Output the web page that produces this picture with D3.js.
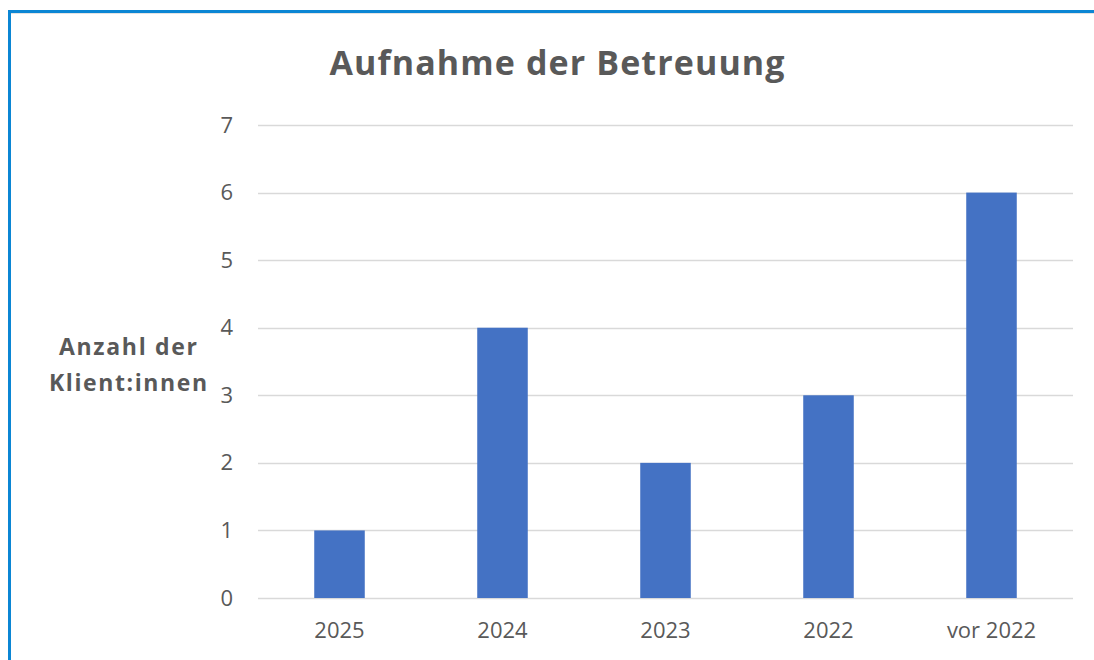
<!DOCTYPE html>
<html>
<head>
<meta charset="utf-8">
<script src="https://cdn.jsdelivr.net/npm/d3@7"></script>
<style>
  html, body { margin: 0; padding: 0; background: #fff; }
  svg { display: block; font-family: "Open Sans", sans-serif; }
</style>
</head>
<body>
<div id="chart"></div>
<script>
// Daten
const categories = ['2025', '2024', '2023', '2022', 'vor 2022']
const values = [1, 4, 2, 3, 6]
const yTicks = [0, 1, 2, 3, 4, 5, 6, 7]
const title = 'Aufnahme der Betreuung'
const yTitle = ['Anzahl der', 'Klient:innen']

const width = 1094
const height = 660
const margin = { top: 125, right: 21, bottom: 62, left: 258 }
const innerW = width - margin.left - margin.right
const innerH = height - margin.top - margin.bottom

const svg = d3.select('#chart')
  .append('svg')
  .attr('width', width)
  .attr('height', height)

// Rahmen (nur links und oben sichtbar)
svg.append('line')
  .attr('x1', 9).attr('y1', 13).attr('x2', width).attr('y2', 13)
  .attr('stroke', '#e3e3e3').attr('stroke-width', 2)
svg.append('path')
  .attr('d', `M9.5,${height} V11.5 H${width}`)
  .attr('fill', 'none')
  .attr('stroke', '#0b86d4')
  .attr('stroke-width', 3)

// Skalen
const x = d3.scaleBand()
  .domain(categories)
  .range([0, innerW])
  .paddingInner(0.69)
  .paddingOuter(0.345)

const y = d3.scaleLinear()
  .domain([0, 7])
  .range([innerH, 0])

const g = svg.append('g')
  .attr('transform', `translate(${margin.left},${margin.top})`)

// Gitterlinien
g.append('g')
  .selectAll('line')
  .data(yTicks)
  .join('line')
  .attr('x1', 0)
  .attr('x2', innerW)
  .attr('y1', d => Math.round(y(d)) + 0.5)
  .attr('y2', d => Math.round(y(d)) + 0.5)
  .attr('stroke', '#d9d9d9')
  .attr('stroke-width', 1.5)

// y-Achse Beschriftung
const yAxis = d3.axisLeft(y).tickValues(yTicks).tickFormat(d3.format('d'))
  .tickSize(0).tickPadding(25)
g.append('g')
  .call(yAxis)
  .call(s => s.select('.domain').remove())
  .selectAll('text')
  .attr('fill', '#595959')
  .attr('font-size', 22)
  .attr('font-family', '"Open Sans", sans-serif')

// Balken
g.append('g')
  .selectAll('rect')
  .data(values)
  .join('rect')
  .attr('x', (d, i) => x(categories[i]))
  .attr('y', d => y(d))
  .attr('width', x.bandwidth())
  .attr('height', d => innerH - y(d))
  .attr('fill', '#4472c4')

// x-Achse
const xAxis = d3.axisBottom(x).tickSize(0).tickPadding(24)
g.append('g')
  .attr('transform', `translate(0,${innerH})`)
  .call(xAxis)
  .call(s => s.select('.domain').remove())
  .selectAll('text')
  .attr('fill', '#595959')
  .attr('font-size', 22)
  .attr('font-family', '"Open Sans", sans-serif')

// Titel
svg.append('text')
  .attr('x', 557)
  .attr('y', 75)
  .attr('text-anchor', 'middle')
  .attr('fill', '#595959')
  .attr('font-size', 34)
  .attr('font-weight', 'bold')
  .attr('textLength', 455)
  .attr('lengthAdjust', 'spacing')
  .text(title)

// y-Achsentitel
svg.append('g')
  .selectAll('text')
  .data(yTitle)
  .join('text')
  .attr('x', 128)
  .attr('y', (d, i) => 355 + i * 36)
  .attr('text-anchor', 'middle')
  .attr('fill', '#595959')
  .attr('font-size', 23)
  .attr('font-weight', 'bold')
  .attr('textLength', (d, i) => i === 0 ? 138 : 158)
  .attr('lengthAdjust', 'spacing')
  .text(d => d)
</script>
</body>
</html>
